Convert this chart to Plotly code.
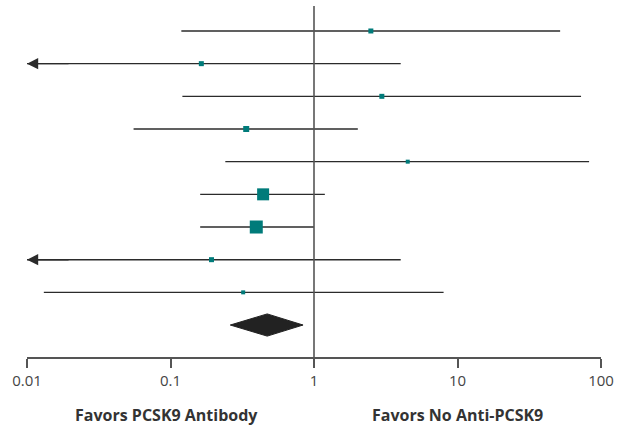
import plotly.graph_objects as go
import math

# Study rows, top to bottom (odds ratio, 95% CI)
point = [2.49, 0.164, 2.97, 0.337, 4.5, 0.442, 0.396, 0.193, 0.321]
lower = [0.119, 0.005, 0.121, 0.0553, 0.241, 0.161, 0.161, 0.005, 0.0131]
upper = [51.9, 4.02, 72.6, 2.02, 82.6, 1.19, 1.0, 4.02, 8.0]
weight = [5, 5, 5, 6, 4, 12, 13, 5, 4]

# Pooled estimate
pooled = 0.472
pooled_lo = 0.261
pooled_hi = 0.839

tick_vals = [0.01, 0.1, 1, 10, 100]
tick_text = ["0.01", "0.1", "1", "10", "100"]
left_label = "Favors PCSK9 Antibody"
right_label = "Favors No Anti-PCSK9"

XMIN, XMAX = 0.01, 100
LINE = "#2b2b2b"
TEAL = "#007b7a"

fig = go.Figure()
annotations = []
n = len(point)
for i in range(n):
    y = i + 1
    lo = max(lower[i], XMIN)
    hi = min(upper[i], XMAX)
    fig.add_trace(go.Scatter(x=[lo, hi], y=[y, y], mode="lines",
                             line=dict(color=LINE, width=1.4),
                             hoverinfo="skip", showlegend=False))
    if lower[i] < XMIN:
        annotations.append(dict(x=math.log10(XMIN), y=y, ax=math.log10(XMIN) + 0.3, ay=y,
                                xref="x", yref="y", axref="x", ayref="y",
                                showarrow=True, arrowhead=2, arrowsize=1.6,
                                arrowwidth=1.4, arrowcolor=LINE, text="", standoff=0))

fig.add_trace(go.Scatter(x=point, y=list(range(1, n + 1)), mode="markers",
                         marker=dict(symbol="square", size=weight, color=TEAL,
                                     opacity=1, line=dict(width=0)),
                         showlegend=False))

yd = n + 1
h = 0.34
fig.add_trace(go.Scatter(x=[pooled_lo, pooled, pooled_hi, pooled, pooled_lo],
                         y=[yd, yd - h, yd, yd + h, yd],
                         mode="lines", fill="toself", fillcolor="#222222",
                         line=dict(color="#222222", width=1),
                         showlegend=False))

fig.add_shape(type="line", xref="x", yref="paper", x0=1, x1=1, y0=0, y1=1,
              line=dict(color="#555555", width=1.6))

lab_font = dict(family="Open Sans", size=16, color="#333333")
annotations.append(dict(x=-1.03, y=-0.165, xref="x", yref="paper", text=f"<b>{left_label}</b>",
                        showarrow=False, yanchor="middle", xanchor="center", font=lab_font))
annotations.append(dict(x=1.0, y=-0.165, xref="x", yref="paper", text=f"<b>{right_label}</b>",
                        showarrow=False, yanchor="middle", xanchor="center", font=lab_font))

fig.update_layout(
    width=620, height=426, autosize=False,
    margin=dict(l=27, r=17, t=6, b=69),
    plot_bgcolor="white", paper_bgcolor="white",
    annotations=annotations,
    xaxis=dict(type="log", range=[math.log10(XMIN), math.log10(XMAX)],
               tickvals=tick_vals, ticktext=tick_text,
               showline=True, linecolor="#555555", linewidth=1.6,
               ticks="outside", ticklen=9, tickwidth=1.6, tickcolor="#555555",
               showgrid=False, zeroline=False,
               tickfont=dict(family="Open Sans", size=15, color="#444444")),
    yaxis=dict(range=[10.979, 0.235], visible=False, showgrid=False, zeroline=False),
)

fig.write_html("out.html")
